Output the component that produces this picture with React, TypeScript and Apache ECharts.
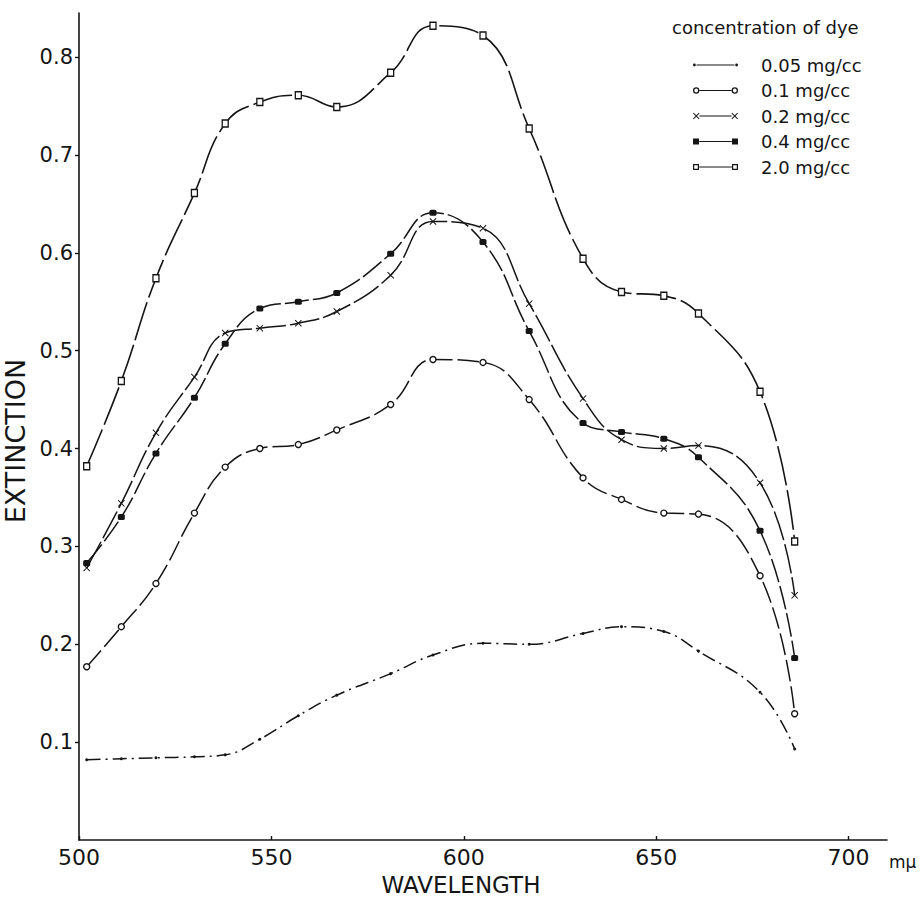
import React, { useEffect, useRef } from "react";
import * as echarts from "echarts";

// ---- data ----
const wavelengths = [502, 511, 520, 530, 538, 547, 557, 567, 581, 592, 605, 617, 631, 641, 652, 661, 677, 686];
const dye005 = [0.082, 0.083, 0.084, 0.085, 0.087, 0.103, 0.127, 0.148, 0.170, 0.189, 0.201, 0.200, 0.211, 0.218, 0.213, 0.193, 0.151, 0.093];
const dye01 = [0.177, 0.218, 0.262, 0.334, 0.381, 0.400, 0.404, 0.419, 0.445, 0.491, 0.488, 0.450, 0.370, 0.348, 0.334, 0.333, 0.270, 0.129];
const dye02 = [0.278, 0.344, 0.416, 0.473, 0.518, 0.523, 0.528, 0.540, 0.577, 0.632, 0.625, 0.548, 0.451, 0.409, 0.400, 0.403, 0.365, 0.250];
const dye04 = [0.283, 0.330, 0.395, 0.452, 0.507, 0.543, 0.550, 0.559, 0.599, 0.641, 0.611, 0.520, 0.426, 0.417, 0.410, 0.391, 0.316, 0.186];
const dye20 = [0.382, 0.469, 0.574, 0.661, 0.732, 0.754, 0.761, 0.749, 0.784, 0.832, 0.822, 0.727, 0.594, 0.560, 0.556, 0.538, 0.458, 0.305];
const seriesNames = ["0.05 mg/cc", "0.1 mg/cc", "0.2 mg/cc", "0.4 mg/cc", "2.0 mg/cc"];
const xTickValues = [500, 550, 600, 650, 700];
const yTickValues = [0.1, 0.2, 0.3, 0.4, 0.5, 0.6, 0.7, 0.8];
const legendTitle = "concentration of dye";
const xAxisTitle = "WAVELENGTH";
const yAxisTitle = "EXTINCTION";
const xUnit = "mμ";

// ---- styling helpers ----
const FONT = "DejaVu Sans";
const INK = "#151515";

const xPoly = [[1, 0], [5, 4], [9, 0], [10, 1], [6, 5], [10, 9], [9, 10], [5, 6], [1, 10], [0, 9], [4, 5], [0, 1]];
const crossSymbol = "path://M" + xPoly.map(([x, y]) => `${x},${y}`).join(" L") + " Z";

const f = (n: number) => n.toFixed(2);
const ringAt = (cx: number, ro: number, ri: number) =>
  `M${f(cx - ro)},4 A${ro},${ro} 0 1 1 ${f(cx + ro)},4 A${ro},${ro} 0 1 1 ${f(cx - ro)},4 Z ` +
  `M${f(cx - ri)},4 A${ri},${ri} 0 1 0 ${f(cx + ri)},4 A${ri},${ri} 0 1 0 ${f(cx - ri)},4 Z`;
const discAt = (cx: number, r: number) =>
  `M${f(cx - r)},4 A${r},${r} 0 1 1 ${f(cx + r)},4 A${r},${r} 0 1 1 ${f(cx - r)},4 Z`;
const squareAt = (cx: number, h: number) =>
  `M${f(cx - h)},${f(4 - h)} L${f(cx + h)},${f(4 - h)} L${f(cx + h)},${f(4 + h)} L${f(cx - h)},${f(4 + h)} Z`;
const openSquareAt = (cx: number, h: number, hi: number) =>
  squareAt(cx, h) +
  ` M${f(cx - hi)},${f(4 - hi)} L${f(cx - hi)},${f(4 + hi)} L${f(cx + hi)},${f(4 + hi)} L${f(cx + hi)},${f(4 - hi)} Z`;
const crossAt = (cx: number, s: number) =>
  "M" + xPoly.map(([x, y]) => `${f(cx - 5 * s + x * s)},${f(4 - 5 * s + y * s)}`).join(" L") + " Z";
const bar = (a: number, b: number) => `M${a},3.4 L${b},3.4 L${b},4.6 L${a},4.6 Z`;

const legendIcons = [
  "path://" + discAt(1.4, 1.4) + " " + bar(3.5, 41.5) + " " + discAt(43.6, 1.4),
  "path://" + ringAt(3.2, 3.2, 1.9) + " " + bar(6.6, 38.4) + " " + ringAt(41.8, 3.2, 1.9),
  "path://" + crossAt(3.25, 0.65) + " " + bar(6.4, 38.6) + " " + crossAt(41.75, 0.65),
  "path://" + squareAt(3, 3) + " " + bar(6.2, 38.8) + " " + squareAt(42, 3),
  "path://" + openSquareAt(3, 3, 1.8) + " " + bar(6.2, 38.8) + " " + openSquareAt(42, 3, 1.8),
];

export default function App() {
  const ref = useRef<HTMLDivElement>(null);

  useEffect(() => {
    if (!ref.current) return;
    const chart = echarts.init(ref.current, null, { renderer: "svg" });
    const pairs = (vals: number[]) => wavelengths.map((w, i) => [w, vals[i]]);
    const base = {
      type: "line",
      smooth: 0.45,
      z: 3,
    };
    const option = {
      animation: false,
      backgroundColor: "#ffffff",
      title: {
        text: legendTitle,
        left: 667,
        top: 13,
        textStyle: { fontFamily: FONT, fontSize: 18, fontWeight: "normal", color: INK },
      },
      legend: {
        orient: "vertical",
        left: 688,
        top: 51,
        itemWidth: 45,
        itemHeight: 8,
        itemGap: 7.5,
        selectedMode: false,
        textStyle: { fontFamily: FONT, fontSize: 18, lineHeight: 18, color: INK, padding: [0, 0, 0, 18] },
        data: seriesNames.map((n, i) => ({
          name: n,
          icon: legendIcons[i],
          itemStyle: { color: INK, borderWidth: 0 },
        })),
      },
      grid: { left: 79, right: 34, top: 13, bottom: 57, containLabel: false, outerBoundsMode: "none" },
      xAxis: {
        type: "value",
        min: 500,
        max: 710,
        name: xAxisTitle,
        nameLocation: "middle",
        nameGap: 33,
        nameTextStyle: { fontFamily: FONT, fontSize: 23, lineHeight: 23, color: INK, padding: [0, 44, 0, 0] },
        axisLine: { show: true, lineStyle: { color: INK, width: 1.6 } },
        axisTick: { show: true, inside: true, length: 4, customValues: xTickValues, lineStyle: { color: INK, width: 1.4 } },
        axisLabel: {
          customValues: xTickValues,
          margin: 6,
          fontFamily: FONT,
          fontSize: 22,
          color: INK,
        },
        splitLine: { show: false },
      },
      yAxis: {
        type: "value",
        min: 0,
        max: 0.845,
        name: yAxisTitle,
        nameLocation: "middle",
        nameRotate: 90,
        nameGap: 44,
        nameTextStyle: { fontFamily: FONT, fontSize: 27, color: INK, padding: [0, 29, 0, 0] },
        axisLine: { show: true, lineStyle: { color: INK, width: 1.6 } },
        axisTick: { show: true, inside: false, length: 4, customValues: yTickValues, lineStyle: { color: INK, width: 1.4 } },
        axisLabel: {
          customValues: yTickValues,
          margin: 6,
          fontFamily: FONT,
          fontSize: 21,
          color: INK,
          formatter: (v: number) => v.toFixed(1),
        },
        splitLine: { show: false },
      },
      graphic: [
        {
          type: "text",
          left: 889,
          top: 853,
          style: { text: xUnit, fontFamily: FONT, fontSize: 17, fill: INK },
        },
      ],
      series: [
        {
          ...base,
          name: seriesNames[0],
          data: pairs(dye005),
          symbol: "circle",
          symbolSize: 3,
          lineStyle: { color: INK, width: 1.5, type: [14, 5, 2, 5] },
          itemStyle: { color: INK },
        },
        {
          ...base,
          name: seriesNames[1],
          data: pairs(dye01),
          symbol: "circle",
          symbolSize: 6,
          lineStyle: { color: INK, width: 1.5, type: [22, 5] },
          itemStyle: { color: "#ffffff", borderColor: INK, borderWidth: 1.4 },
        },
        {
          ...base,
          name: seriesNames[2],
          data: pairs(dye02),
          symbol: crossSymbol,
          symbolSize: 7,
          lineStyle: { color: INK, width: 1.5, type: [30, 4] },
          itemStyle: { color: INK },
        },
        {
          ...base,
          name: seriesNames[3],
          data: pairs(dye04),
          symbol: "roundRect",
          symbolSize: [7, 6],
          lineStyle: { color: INK, width: 1.5, type: [24, 4] },
          itemStyle: { color: INK },
        },
        {
          ...base,
          name: seriesNames[4],
          data: pairs(dye20),
          symbol: "rect",
          symbolSize: [6, 7],
          lineStyle: { color: INK, width: 1.6, type: [40, 5] },
          itemStyle: { color: "#ffffff", borderColor: INK, borderWidth: 1.4 },
        },
      ],
    };
    chart.setOption(option as any);
    return () => chart.dispose();
  }, []);

  return (
    <div
      ref={ref}
      style={{ position: "absolute", left: 0, top: 0, width: 921, height: 897, background: "#fff" }}
    />
  );
}
